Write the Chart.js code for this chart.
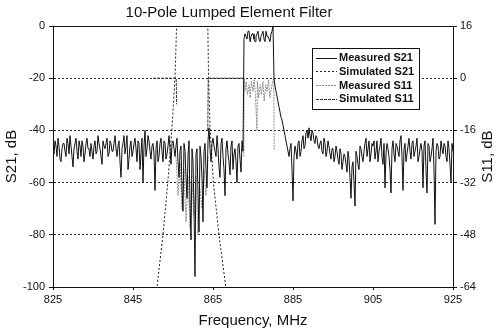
<!DOCTYPE html>
<html>
<head>
<meta charset="utf-8">
<script src="https://cdn.jsdelivr.net/npm/chart.js@4"></script>
<style>
  body { margin: 0; background: #fff; }
</style>
</head>
<body>
<canvas id="chart" width="500" height="330"></canvas>
<script>
const FONT = "'Liberation Sans', Arial, sans-serif";
const TITLE = "10-Pole Lumped Element Filter";
const RIGHT_TITLE = "S11, dB";

// measured S21, one value every 0.5 MHz from 825 to 925
const measStart = 825;
const measStep = 0.5;
const measuredS21 = [
  -47, -44, -50, -46, -52, -45, -48, -43, -49, -46,
  -54, -45, -48, -44, -50, -46, -49, -43, -47, -45,
  -51, -44, -48, -45, -50, -44, -47, -43, -49, -45,
  -48, -42, -50, -44, -58, -45, -49, -42, -51, -44,
  -48, -43, -52, -45, -49, -60, -40, -47, -44, -51,
  -45, -63, -44, -50, -43, -52, -45, -49, -42, -53,
  -44, -50, -43, -58, -46, -71, -48, -66, -44, -82,
  -52, -96, -47, -79, -50, -75, -45, -62, -39, -52,
  -43, -48, -42, -54, -45, -50, -65, -44, -52, -46,
  -55, -47, -60, -45, -56, -48, -3, -5, -2, -4,
  -3, -6, -3, -5, -4, -2, -6, -4, -5, -3,
  0, -23, -27, -31, -35, -38, -42, -46, -50, -45,
  -67, -46, -51, -44, -48, -42, -46, -40, -39, -44,
  -41, -45, -43, -47, -44, -49, -45, -48, -46, -51,
  -47, -50, -48, -53, -49, -52, -50, -56, -51, -66,
  -52, -69, -50, -55, -47, -52, -45, -50, -44, -49,
  -46, -51, -44, -48, -43, -53, -62, -45, -50, -64,
  -44, -52, -46, -50, -42, -63, -45, -49, -43, -51,
  -44, -48, -43, -50, -45, -62, -44, -64, -46, -50,
  -43, -76, -45, -51, -44, -49, -46, -52, -47, -60,
  -48
];
// measured S21 in between, at 825.25, 825.75, ... 924.75
const measuredS21Mid = [
  -49, -46, -43, -51, -47, -45, -50, -45, -42, -50,
  -47, -43, -51, -46, -44, -52, -45, -47, -50, -48,
  -46, -49, -42, -47, -53, -46, -45, -50, -44, -48,
  -45, -47, -46, -52, -47, -42, -46, -55, -46, -50,
  -45, -47, -44, -55, -43, -46, -50, -42, -48, -46,
  -49, -47, -52, -45, -48, -44, -51, -46, -47, -45,
  -47, -46, -52, -48, -63, -45, -58, -50, -68, -47,
  -70, -49, -64, -46, -58, -48, -55, -44, -47, -45,
  -46, -50, -47, -58, -43, -55, -47, -49, -57, -44,
  -49, -52, -46, -51, -44, -5, -4, -2, -6, -3,
  -5, -4, -2, -6, -3, -5, -2, -4, -6, -2,
  -20, -25, -29, -33, -36, -40, -44, -48, -47, -55,
  -50, -48, -45, -50, -44, -47, -41, -43, -42, -40,
  -44, -42, -46, -45, -48, -43, -50, -44, -49, -47,
  -52, -46, -51, -47, -55, -49, -53, -48, -58, -54,
  -60, -48, -53, -46, -50, -48, -43, -47, -52, -45,
  -44, -48, -52, -46, -50, -45, -49, -47, -55, -47,
  -49, -45, -48, -44, -50, -47, -52, -46, -48, -45,
  -50, -46, -52, -47, -48, -46, -55, -45, -52, -47,
  -55, -48, -46, -50, -47, -45, -50, -44, -53, -45
];

// simulated S21 (left axis), goes off the chart above 0 and below -100
const simS21Freq = [849.5, 851.0, 852.5, 853.7, 854.7, 855.5, 855.9, 856.5, 863.0, 863.7, 863.9, 864.3, 865.1, 866.5, 868.2, 869.0];
const simS21Val  = [-110, -100, -80, -60, -40, -20, 0, 5, 5, 0, -20, -40, -60, -80, -100, -108];

// measured S11 (right axis)
const measS11Freq = [855.75, 856.25, 856.75, 857.25, 857.75, 858.25, 858.75, 859.25, 859.75, 860.25, 860.75, 861.25, 861.75, 862.25, 862.75, 863.25, 863.75,
  864.0,
  872.7, 872.8, 873.0, 873.3, 873.6, 874.0, 874.3, 874.6, 875.0, 875.3, 875.6, 876.0, 876.1, 876.4, 876.8, 877.1, 877.5, 877.8, 878.2, 878.5, 878.9, 879.2, 879.6, 879.9, 880.2, 880.3];
const measS11Val = [-24, -36, -26, -40, -28, -44, -30, -46, -32, -42, -30, -48, -34, -40, -28, -36, -24,
  null,
  -24, 0, -4, -1, -5, -2, -6, -1, -4, -0.5, -5, -16, -1, -6, -2, -5, -1, -7, -2, -4, -0.5, -6, -3, -1, 0, -22];

// simulated S11 (right axis)
const simS11Freq = [850.0, 855.8, 855.9, 856.0, 863.7, 863.8, 872.5];
const simS11Val  = [0, 0, -8, null, -16, 0, 0];

const xTicks = [825, 845, 865, 885, 905, 925];

const pairs = (xs, ys) => xs.map((x, i) => ({ x, y: ys[i] }));

const measuredS21Points = [];
measuredS21.forEach((v, i) => {
  const f = measStart + i * measStep;
  measuredS21Points.push({ x: f, y: v });
  if (i < measuredS21Mid.length) {
    measuredS21Points.push({ x: f + measStep / 2, y: measuredS21Mid[i] });
  }
});

const datasets = [
  {
    label: "Measured S21",
    data: measuredS21Points,
    borderColor: "#111",
    borderWidth: 1,
    borderDash: [],
    yAxisID: "y",
    order: 1,
  },
  {
    label: "Simulated S21",
    data: pairs(simS21Freq, simS21Val),
    borderColor: "#222",
    borderWidth: 1,
    borderDash: [2, 2],
    yAxisID: "y",
    order: 2,
  },
  {
    label: "Measured S11",
    data: pairs(measS11Freq, measS11Val),
    borderColor: "#8c8c8c",
    borderWidth: 1,
    borderDash: [2, 1],
    yAxisID: "y2",
    order: 3,
  },
  {
    label: "Simulated S11",
    data: pairs(simS11Freq, simS11Val),
    borderColor: "#333",
    borderWidth: 1,
    borderDash: [3, 1],
    yAxisID: "y2",
    order: 4,
  },
];

const overlay = {
  id: "overlay",
  afterDraw(chart) {
    const { ctx, chartArea: a } = chart;
    ctx.save();
    ctx.strokeStyle = "#111";
    ctx.lineWidth = 1;
    ctx.setLineDash([]);
    ctx.strokeRect(Math.round(a.left) + 0.5, Math.round(a.top) + 0.5,
      Math.round(a.right - a.left), Math.round(a.bottom - a.top));

    ctx.fillStyle = "#111";
    ctx.font = "15px " + FONT;
    ctx.textAlign = "center";
    ctx.textBaseline = "middle";
    ctx.fillText(TITLE, 229, 13);

    // right axis title reads bottom to top, like the left one
    ctx.save();
    ctx.translate(488, (a.top + a.bottom) / 2);
    ctx.rotate(-Math.PI / 2);
    ctx.fillText(RIGHT_TITLE, 0, 0);
    ctx.restore();

    // legend box inside the plot
    const bx = 312, by = 48, bw = 107, bh = 61;
    ctx.fillStyle = "#fff";
    ctx.fillRect(bx, by, bw, bh);
    ctx.strokeStyle = "#111";
    ctx.strokeRect(bx + 0.5, by + 0.5, bw, bh);
    ctx.font = "bold 11px " + FONT;
    ctx.textAlign = "left";
    chart.data.datasets.forEach((ds, i) => {
      const y = by + 9.5 + i * 13.8;
      ctx.strokeStyle = ds.borderColor;
      ctx.setLineDash(ds.borderDash);
      ctx.beginPath();
      ctx.moveTo(bx + 4, Math.round(y) + 0.5);
      ctx.lineTo(bx + 25, Math.round(y) + 0.5);
      ctx.stroke();
      ctx.setLineDash([]);
      ctx.fillStyle = "#111";
      ctx.fillText(ds.label, bx + 27, y + 0.5);
    });
    ctx.restore();
  },
};

new Chart(document.getElementById("chart"), {
  type: "line",
  data: { datasets },
  plugins: [overlay],
  options: {
    responsive: false,
    animation: false,
    devicePixelRatio: 1,
    layout: { padding: { top: 26, left: 0, right: 0, bottom: 0 } },
    elements: {
      point: { radius: 0 },
      line: { tension: 0, fill: false },
    },
    plugins: {
      legend: { display: false },
      tooltip: { enabled: false },
      title: { display: false },
    },
    scales: {
      x: {
        type: "linear",
        min: 825,
        max: 925,
        afterBuildTicks: (s) => { s.ticks = xTicks.map((v) => ({ value: v })); },
        afterFit: (s) => { s.height = 43; },
        ticks: { color: "#111", font: { size: 11, family: FONT }, padding: 3 },
        grid: { drawOnChartArea: false, tickLength: 3, color: "#111" },
        border: { color: "#111" },
        title: {
          display: true,
          text: "Frequency, MHz",
          color: "#111",
          font: { size: 15, family: FONT },
          padding: { top: 2, bottom: 0 },
        },
      },
      y: {
        position: "left",
        min: -100,
        max: 0,
        ticks: { stepSize: 20, color: "#111", font: { size: 11, family: FONT }, padding: 4 },
        afterFit: (s) => { s.width = 53; },
        grid: { color: "#222", tickLength: 4, tickColor: "#111" },
        border: { color: "#111", dash: [2, 2] },
        title: {
          display: true,
          text: "S21, dB",
          color: "#111",
          font: { size: 15, family: FONT },
          padding: { top: 3, bottom: 2 },
        },
      },
      y2: {
        position: "right",
        min: -64,
        max: 16,
        ticks: { stepSize: 16, color: "#111", font: { size: 11, family: FONT }, padding: 3 },
        afterFit: (s) => { s.width = 47; },
        grid: { drawOnChartArea: false, tickLength: 4, color: "#111" },
        border: { color: "#111" },
      },
    },
  },
});
</script>
</body>
</html>
